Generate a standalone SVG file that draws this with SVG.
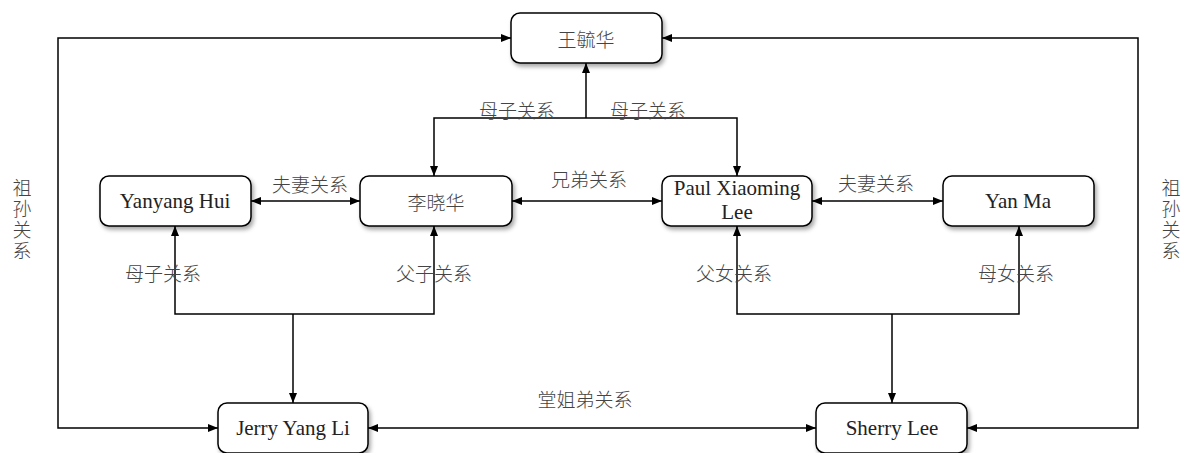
<svg xmlns="http://www.w3.org/2000/svg" width="1184" height="453" viewBox="0 0 1184 453">
<style>
.box{fill:#fff;stroke:#000;stroke-width:1.5;filter:url(#sh)}
.en{font-family:"Liberation Serif","Noto Sans CJK SC",serif;font-size:21px;fill:#222;text-anchor:middle}
.zh{font-family:"Noto Sans CJK SC","Noto Sans CJK JP",sans-serif;font-size:19px;fill:#444;text-anchor:middle;dominant-baseline:central;font-weight:300}
.vt{font-family:"Noto Sans CJK SC","Noto Sans CJK JP",sans-serif;font-size:19px;fill:#444;writing-mode:vertical-rl;text-anchor:start;font-weight:300;letter-spacing:2px}
.ln{fill:none;stroke:#000;stroke-width:1.5}
.a{marker-end:url(#ah)}
.aa{marker-end:url(#ah);marker-start:url(#ah)}
</style>
<defs>
<filter id="sh" x="-10%" y="-20%" width="130%" height="160%">
<feDropShadow dx="2" dy="3" stdDeviation="2" flood-color="#000" flood-opacity="0.35"/>
</filter>
<marker id="ah" viewBox="0 0 10 8" refX="10" refY="4" markerWidth="10" markerHeight="8" markerUnits="userSpaceOnUse" orient="auto-start-reverse">
<path d="M0,0 L10,4 L0,8 z" fill="#000"/>
</marker>
</defs>
<g id="connectors">
<path class="ln a" d="M586,118 L586,63"/>
<path class="ln a" d="M586,118 L434,118 L434,176"/>
<path class="ln a" d="M586,118 L737,118 L737,176"/>
<path class="ln aa" d="M251,201 L360,201"/>
<path class="ln aa" d="M512,201 L662,201"/>
<path class="ln aa" d="M812,201 L943,201"/>
<path class="ln a" d="M293,314 L175,314 L175,226"/>
<path class="ln a" d="M293,314 L434,314 L434,226"/>
<path class="ln a" d="M293,314 L293,403"/>
<path class="ln a" d="M892,314 L737,314 L737,226"/>
<path class="ln a" d="M892,314 L1019,314 L1019,226"/>
<path class="ln a" d="M892,314 L892,403"/>
<path class="ln aa" d="M368,428 L816,428"/>
<path class="ln aa" d="M218,428 L58,428 L58,38 L511,38"/>
<path class="ln aa" d="M967,428 L1138,428 L1138,38 L662,38"/>
<text class="zh" x="517" y="109">母子关系</text>
<text class="zh" x="648" y="109">母子关系</text>
<text class="zh" x="310" y="183">夫妻关系</text>
<text class="zh" x="589" y="178">兄弟关系</text>
<text class="zh" x="876" y="182">夫妻关系</text>
<text class="zh" x="163" y="272">母子关系</text>
<text class="zh" x="434" y="272">父子关系</text>
<text class="zh" x="734" y="272">父女关系</text>
<text class="zh" x="1016" y="272">母女关系</text>
<text class="zh" x="585" y="398">堂姐弟关系</text>
<text class="vt" x="22" y="178">祖孙关系</text>
<text class="vt" x="1171" y="178">祖孙关系</text>
</g>
<g id="n-wang">
<rect class="box" x="511" y="13" width="151" height="50" rx="9"/>
<text class="zh" x="586" y="38">王毓华</text>
</g>
<g id="n-yanyang">
<rect class="box" x="100" y="176" width="151" height="50" rx="9"/>
<text class="en" x="175" y="208">Yanyang Hui</text>
</g>
<g id="n-li">
<rect class="box" x="360" y="176" width="152" height="50" rx="9"/>
<text class="zh" x="436" y="201">李晓华</text>
</g>
<g id="n-paul">
<rect class="box" x="662" y="176" width="150" height="50" rx="9"/>
<text class="en" x="737" y="195">Paul Xiaoming</text>
<text class="en" x="737" y="219">Lee</text>
</g>
<g id="n-yanma">
<rect class="box" x="943" y="176" width="151" height="50" rx="9"/>
<text class="en" x="1018" y="208">Yan Ma</text>
</g>
<g id="n-jerry">
<rect class="box" x="218" y="403" width="150" height="50" rx="9"/>
<text class="en" x="293" y="435">Jerry Yang Li</text>
</g>
<g id="n-sherry">
<rect class="box" x="816" y="403" width="151" height="50" rx="9"/>
<text class="en" x="892" y="435">Sherry Lee</text>
</g>
</svg>
